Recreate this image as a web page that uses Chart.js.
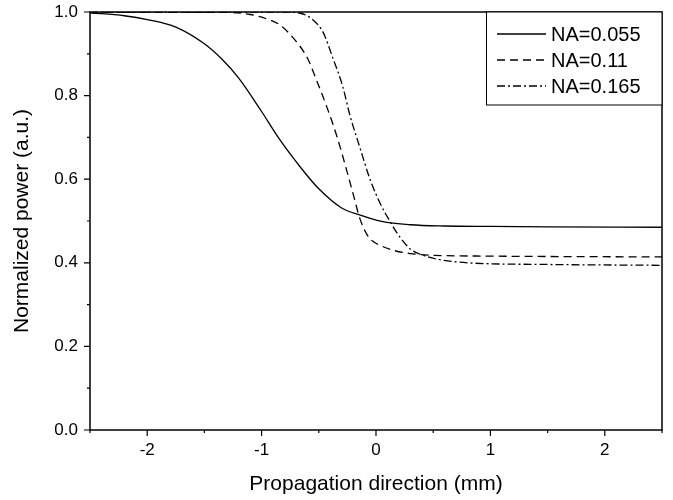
<!DOCTYPE html>
<html>
<head>
<meta charset="utf-8">
<script src="https://cdn.jsdelivr.net/npm/chart.js@4.4.0/dist/chart.umd.min.js"></script>
<style>
  body { margin: 0; background: #fff; }
  #wrap { width: 673px; height: 500px; }
</style>
</head>
<body>
<div id="wrap"><canvas id="powerChart"></canvas></div>
<script>
// values
const seriesNames = ['NA=0.055', 'NA=0.11', 'NA=0.165']

const xSolid = [-2.5, -2.2, -2.0, -1.75, -1.5, -1.35, -1.2, -1.0, -0.85, -0.65, -0.5, -0.3, -0.15, 0.05, 0.3, 0.6, 1.0, 1.5, 2.5]
const ySolid = [0.998, 0.991, 0.982, 0.964, 0.924, 0.888, 0.842, 0.762, 0.698, 0.625, 0.577, 0.531, 0.515, 0.499, 0.491, 0.488, 0.487, 0.486, 0.485]

const xDash = [-2.5, -1.3, -1.1, -0.95, -0.84, -0.73, -0.6, -0.52, -0.43, -0.34, -0.25, -0.2, -0.14, -0.08, -0.03, 0.05, 0.15, 0.3, 0.5, 1.0, 2.5]
const yDash = [1.0, 0.999, 0.994, 0.983, 0.969, 0.940, 0.890, 0.837, 0.773, 0.701, 0.615, 0.565, 0.505, 0.468, 0.452, 0.440, 0.430, 0.422, 0.418, 0.416, 0.414]

const xDashDot = [-2.5, -0.8, -0.66, -0.55, -0.46, -0.38, -0.29, -0.23, -0.14, -0.05, 0.04, 0.12, 0.2, 0.3, 0.4, 0.55, 0.8, 1.5, 2.5]
const yDashDot = [1.0, 1.0, 0.997, 0.981, 0.950, 0.892, 0.821, 0.755, 0.675, 0.598, 0.540, 0.500, 0.465, 0.433, 0.419, 0.408, 0.400, 0.396, 0.394]

const xTicks = [-2, -1, 0, 1, 2]
const yTicks = [0.0, 0.2, 0.4, 0.6, 0.8, 1.0]

function pairs(xs, ys) {
    return xs.map((x, i) => ({x: x, y: ys[i]}))
}

Chart.defaults.font.family = '"Liberation Sans", Arial, sans-serif'
Chart.defaults.color = '#000'

// frame, outward ticks and the boxed legend
const framePlugin = {
    id: 'frame',
    afterDraw(chart) {
        const ctx = chart.ctx
        const a = chart.chartArea
        const xs = chart.scales.x
        const ys = chart.scales.y
        ctx.save()
        ctx.strokeStyle = '#000'
        ctx.lineWidth = 1.5
        ctx.strokeRect(a.left, a.top, a.right - a.left, a.bottom - a.top)

        ctx.lineWidth = 1.2
        ctx.beginPath()
        for (let v = -2.5; v <= 2.5001; v += 0.5) {
            const px = xs.getPixelForValue(v)
            const len = Math.abs(v - Math.round(v)) < 0.01 ? 6 : 3
            ctx.moveTo(px, a.bottom)
            ctx.lineTo(px, a.bottom + len)
        }
        for (let v = 0; v <= 1.0001; v += 0.1) {
            const py = ys.getPixelForValue(v)
            const major = Math.round(v * 10) % 2 === 0
            ctx.moveTo(a.left, py)
            ctx.lineTo(a.left - (major ? 6 : 3), py)
        }
        ctx.stroke()

        // legend box
        const bx = 486, by = a.top, bw = a.right - 486, bh = 93
        ctx.fillStyle = '#fff'
        ctx.fillRect(bx, by, bw, bh)
        ctx.lineWidth = 1
        ctx.strokeRect(bx + 0.5, by, bw - 0.5, bh)
        ctx.font = '20px "Liberation Sans", Arial, sans-serif'
        ctx.textBaseline = 'middle'
        ctx.fillStyle = '#000'
        chart.data.datasets.forEach((ds, i) => {
            const ry = by + 22 + i * 26
            ctx.beginPath()
            ctx.setLineDash(ds.borderDash || [])
            ctx.lineWidth = 1.3
            ctx.moveTo(bx + 11, ry)
            ctx.lineTo(bx + 60, ry)
            ctx.stroke()
            ctx.setLineDash([])
            ctx.fillText(ds.label, bx + 65, ry + 1)
        })
        ctx.restore()
    }
}

const powerChart = new Chart(document.getElementById('powerChart'), {
    type: 'line',
    data: {
        datasets: [
            {label: seriesNames[0], data: pairs(xSolid, ySolid), borderDash: []},
            {label: seriesNames[1], data: pairs(xDash, yDash), borderDash: [8, 5]},
            {label: seriesNames[2], data: pairs(xDashDot, yDashDot), borderDash: [8, 3, 2, 3]}
        ].map(ds => Object.assign(ds, {
            borderColor: '#000',
            borderWidth: 1.3,
            pointRadius: 0,
            cubicInterpolationMode: 'monotone',
            fill: false
        }))
    },
    options: {
        responsive: true,
        maintainAspectRatio: false,
        animation: false,
        layout: {padding: {top: 12, right: 11, left: 0, bottom: 0}},
        plugins: {legend: {display: false}, tooltip: {enabled: false}},
        scales: {
            x: {
                type: 'linear',
                min: -2.5,
                max: 2.5,
                afterBuildTicks: s => { s.ticks = xTicks.map(v => ({value: v})) },
                afterFit: s => { s.height = 70 },
                grid: {display: false, drawTicks: false},
                border: {display: false},
                ticks: {font: {size: 17}, padding: 10, maxRotation: 0, callback: v => String(v)},
                title: {display: true, text: 'Propagation direction (mm)', font: {size: 21}, padding: {top: 0, bottom: 3}}
            },
            y: {
                min: 0,
                max: 1,
                afterBuildTicks: s => { s.ticks = yTicks.map(v => ({value: v})) },
                afterFit: s => { s.width = 90; s.paddingTop = 0; s.paddingBottom = 0 },
                grid: {display: false, drawTicks: false},
                border: {display: false},
                ticks: {font: {size: 17}, padding: 12, callback: v => v.toFixed(1)},
                title: {display: true, text: 'Normalized power (a.u.)', font: {size: 21}, padding: {top: 10, bottom: 0}}
            }
        }
    },
    plugins: [framePlugin]
})
</script>
</body>
</html>
